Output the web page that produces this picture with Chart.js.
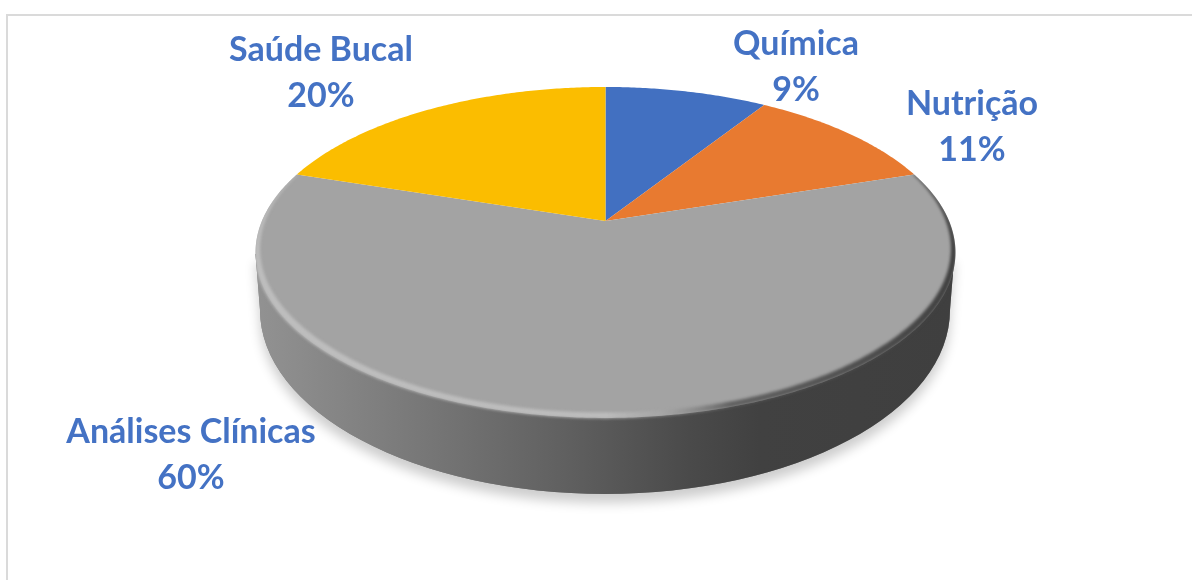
<!DOCTYPE html>
<html lang="pt">
<head>
<meta charset="utf-8">
<title>Cursos</title>
<script src="https://cdn.jsdelivr.net/npm/chart.js@4"></script>
<style>
  html, body { margin: 0; padding: 0; background: #fff; overflow: hidden; }
  canvas { display: block; }
</style>
</head>
<body>
<canvas id="pie" width="1192" height="580"></canvas>
<script>
// Chart content
const categories = ['Química', 'Nutrição', 'Análises Clínicas', 'Saúde Bucal'];
const shares = [9, 11, 60, 20];
const sliceColors = ['#4270C1', '#E87A30', '#A3A3A3', '#FBBD00'];

// Label placement: centre x and first-line baseline, one entry per category
const labelCentreX = [796, 972, 191, 321];
const labelBaseline = [55, 115, 443, 61];
const labelLineGap = 46;
const labelFont = 'bold 34px Lato, "Noto Sans", sans-serif';
const labelColor = '#4472C4';

// Tilted disc: perspective projection of the unit circle onto the page
const disc = { x: 605.5, y: 221, b: 343.6, a: 159.5, k: -0.19 };
// Lower rim of the cylinder wall
const wall = { x: 605, y: 310, rx: 345, ry: 184, topY: 254 };

function project(u, v) {
  const w = 1 + disc.k * v;
  return [disc.x + disc.b * u / w, disc.y + disc.a * v / w];
}

function traceArc(ctx, from, to, move, radius) {
  const steps = Math.max(2, Math.ceil(Math.abs(to - from) / 0.01));
  for (let i = 0; i <= steps; i++) {
    const t = from + (to - from) * i / steps;
    const r = radius ? radius(t) : 1;
    const p = project(r * Math.cos(t), r * Math.sin(t));
    if (i === 0 && move) ctx.moveTo(p[0], p[1]); else ctx.lineTo(p[0], p[1]);
  }
}

function wallPath(ctx) {
  ctx.moveTo(wall.x - 349.5, wall.topY);
  ctx.lineTo(wall.x - wall.rx, wall.y);
  ctx.ellipse(wall.x, wall.y, wall.rx, wall.ry, 0, Math.PI, 0, true);
  ctx.lineTo(wall.x + 349.5, wall.topY);
  ctx.closePath();
}

function drawWall(ctx) {
  // soft shadow on the page
  ctx.save();
  ctx.shadowColor = 'rgba(0,0,0,0.2)';
  ctx.shadowBlur = 12;
  ctx.shadowOffsetY = 9;
  ctx.beginPath();
  wallPath(ctx);
  ctx.fillStyle = '#808080';
  ctx.fill();
  ctx.restore();

  const g = ctx.createLinearGradient(256, 0, 955, 0);
  g.addColorStop(0, '#929292');
  g.addColorStop(0.1, '#878787');
  g.addColorStop(0.25, '#767676');
  g.addColorStop(0.45, '#5f5f5f');
  g.addColorStop(0.62, '#4a4a4a');
  g.addColorStop(0.72, '#414141');
  g.addColorStop(1, '#3f3f3f');
  ctx.beginPath();
  wallPath(ctx);
  ctx.fillStyle = g;
  ctx.fill();
}

// Rounded edge of the large slice: a blurred band, thin near the back of the
// disc and wider along the front, light on the left and dark on the right.
function drawBevel(ctx, start, end) {
  const inner = t => {
    const front = Math.min(1, Math.max(0, (Math.sin(t) + 0.3) / 1.0));
    return 1 - (0.004 + 0.018 * front);
  };
  ctx.save();
  ctx.beginPath();
  // disc traced the same way round as the wall so the clip is their union
  traceArc(ctx, Math.PI * 2, 0, true);
  ctx.closePath();
  wallPath(ctx);
  ctx.clip('nonzero');
  const g = ctx.createLinearGradient(256, 0, 955, 0);
  g.addColorStop(0, 'rgba(194,194,194,0.85)');
  g.addColorStop(0.5, 'rgba(194,194,194,0.85)');
  g.addColorStop(0.58, 'rgba(168,168,168,0.6)');
  g.addColorStop(0.68, 'rgba(90,90,90,0.9)');
  g.addColorStop(1, 'rgba(64,64,64,1)');
  ctx.filter = 'blur(1.4px)';
  ctx.fillStyle = g;
  ctx.beginPath();
  traceArc(ctx, start, end, true, () => 1.002);
  traceArc(ctx, end, start, false, inner);
  ctx.closePath();
  ctx.fill();
  ctx.restore();
}

const tiltedPie = {
  id: 'tiltedPie',
  beforeDatasetDraw(chart, args) {
    const ctx = chart.ctx;
    const arcs = chart.getDatasetMeta(args.index).data;
    drawWall(ctx);
    arcs.forEach((arc, i) => {
      ctx.beginPath();
      ctx.moveTo(disc.x, disc.y);
      traceArc(ctx, arc.startAngle, arc.endAngle, false);
      ctx.closePath();
      ctx.fillStyle = sliceColors[i];
      ctx.fill();
    });
    const big = arcs[categories.indexOf('Análises Clínicas')];
    drawBevel(ctx, big.startAngle, big.endAngle);
    return false;
  },
  afterDraw(chart) {
    const ctx = chart.ctx;
    // frame lines along the top and left of the chart area
    ctx.fillStyle = '#DADADA';
    ctx.fillRect(6, 14, 1186, 2);
    ctx.fillRect(6, 14, 2, 566);
    // category and share labels
    ctx.save();
    ctx.font = labelFont;
    ctx.fillStyle = labelColor;
    ctx.textAlign = 'center';
    ctx.textBaseline = 'alphabetic';
    categories.forEach((name, i) => {
      ctx.fillText(name, labelCentreX[i], labelBaseline[i]);
      ctx.fillText(shares[i] + '%', labelCentreX[i], labelBaseline[i] + labelLineGap);
    });
    ctx.restore();
  }
};

new Chart(document.getElementById('pie'), {
  type: 'pie',
  data: {
    labels: categories,
    datasets: [{ data: shares, backgroundColor: sliceColors, borderWidth: 0 }]
  },
  options: {
    responsive: false,
    animation: false,
    events: [],
    plugins: { legend: { display: false }, tooltip: { enabled: false } }
  },
  plugins: [tiltedPie]
});
</script>
</body>
</html>
